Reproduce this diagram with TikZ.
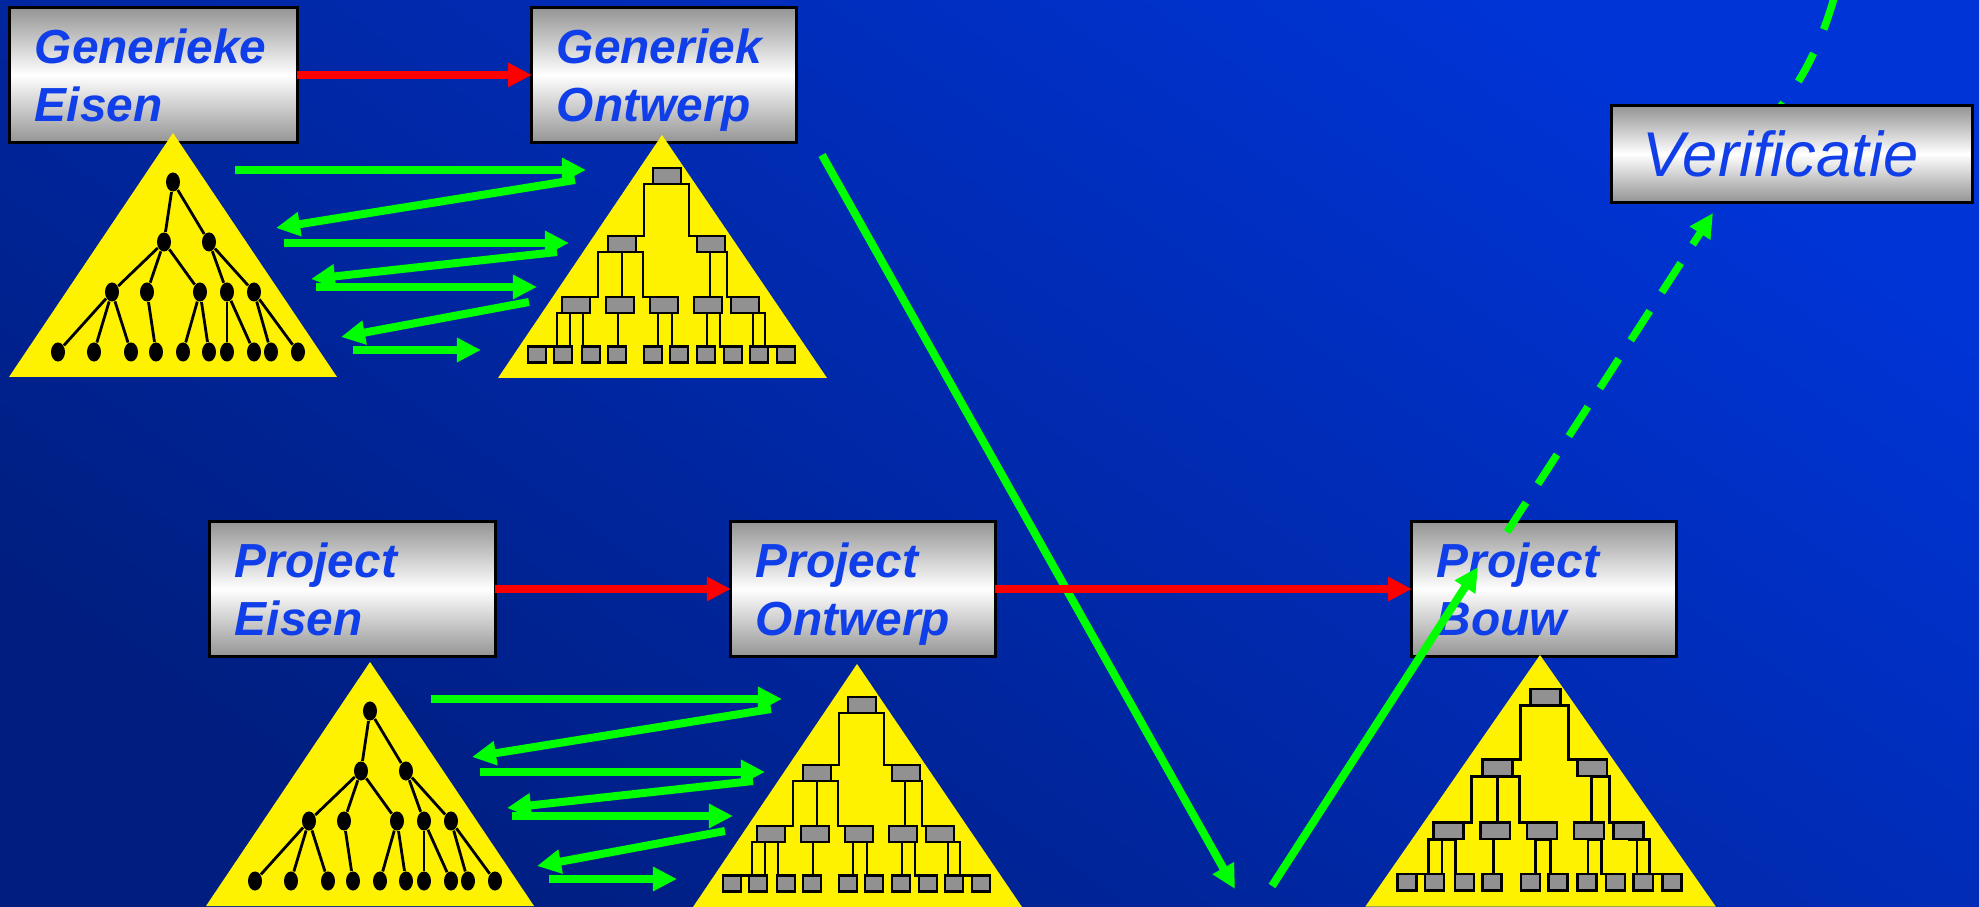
\documentclass[tikz,border=0pt]{standalone}
\usepackage{fontspec}
\setmainfont{Liberation Sans}
\usepackage{tikz}
\usetikzlibrary{shapes.geometric,arrows.meta,positioning}

\definecolor{Ink}{RGB}{16,62,232}
\definecolor{Steel}{RGB}{148,148,148}
\definecolor{Slate}{RGB}{145,145,145}
\definecolor{Lime}{RGB}{0,255,0}
\definecolor{Navy}{RGB}{0,30,128}
\definecolor{Royal}{RGB}{0,52,214}

\newcommand{\dottree}{%
	\fill[yellow] (0,0) -- (-164,244) -- (164,244) -- cycle;
	\node (d1) at (0,49) [Dot]{};
	\node (d2) at (-9,109) [Dot]{};
	\node (d3) at (36,109) [Dot]{};
	\node (d4) at (-61,159) [Dot]{};
	\node (d5) at (-26,159) [Dot]{};
	\node (d6) at (27,159) [Dot]{};
	\node (d7) at (54,159) [Dot]{};
	\node (d8) at (81,159) [Dot]{};
	\foreach \i/\x in {9/-115,10/-79,11/-42,12/-17,13/10,14/36,15/54,16/81,17/98,18/125}
		\node (d\i) at (\x,219) [Dot]{};
	\foreach \a/\b in {1/2,1/3,2/4,2/5,2/6,3/7,3/8,4/9,4/10,4/11,5/12,6/13,6/14,7/15,7/16,8/17,8/18}
		\draw [Twig] (d\a) -- (d\b);
}

\newcommand{\boxtree}{%
	\fill[yellow] (0,0) -- (-164,243) -- (165,243) -- cycle;
	\node (c1) at (5,41) [Block]{};
	\node (c2) at (-40,109) [Block]{};
	\node (c3) at (49,109) [Block]{};
	\foreach \i/\x in {4/-86,5/-42,6/2,7/46,8/83}
		\node (c\i) at (\x,170) [Block]{};
	\foreach \i/\x in {9/-125,10/-99,11/-71,12/-45,13/-9,14/17,15/44,16/71,17/97,18/124}
		\node (c\i) at (\x,219.5) [Cell]{};
	\foreach \a/\b/\off in {1/2/-23,1/3/22,2/4/-24,2/5/0,2/6/21,3/7/-1,3/8/16,4/9/-19,4/10/-6,4/11/7,5/12/-2,6/13/-6,6/14/8,7/15/-1,7/16/12,8/17/8,8/18/20}
		\draw [Twig] (c\a.south) -- ++(\off,0) |- (c\b.north);
}

\begin{document}
\begin{tikzpicture}[x=0.01cm, y=-0.01cm]
	\tikzstyle{Panel} = [draw=black, line width=0.3mm, top color=Steel, bottom color=Steel, middle color=white, text=Ink, inner ysep=0pt, outer sep=0pt]
	\tikzstyle{Stage} = [Panel, minimum height=13.5mm, inner xsep=2.5mm, align=left, text height=10pt, text depth=16.5pt, font=\bfseries\itshape\fontsize{13.6}{16.5}\selectfont]
	\tikzstyle{Dot}   = [ellipse, fill=black, minimum width=1.4mm, minimum height=1.9mm, inner sep=0pt]
	\tikzstyle{Block} = [draw=black, fill=Slate, line width=0.25mm, minimum width=2.8mm, minimum height=1.6mm, inner sep=0pt, outer sep=0pt]
	\tikzstyle{Cell}  = [Block, minimum width=1.8mm]
	\tikzstyle{Twig}  = [black, line width=0.28mm]
	\tikzstyle{Flow}  = [red, line width=0.8mm, -{Triangle[length=2.4mm, width=2.3mm]}]
	\tikzstyle{Zig}   = [Lime, line width=0.8mm, -{Triangle[length=2.4mm, width=2.3mm]}]
	\tikzstyle{Check} = [Lime, line width=0.75mm, dash pattern=on 3.5mm off 2.2mm]

	\useasboundingbox (0,0) rectangle (1979,907);
	\shade[top color=Royal, bottom color=Navy, shading angle=-35] (0,0) rectangle (1979,907);

	\coordinate (g7) at (1781,106);
	\coordinate (g8) at (1834,-2);
	\draw [Check, dash pattern=on 3.2mm off 2.6mm, dash phase=2.8mm] (g7) .. controls (1805,76) and (1822,40) .. (g8);

	\node (ge) at (153.5,75) [Stage, text width=23.7mm] {Generieke\\Eisen};
	\node (go) at (664,75) [Stage, text width=21.4mm] {Generiek\\Ontwerp};
	\node (pe) at (352.5,589) [Stage, text width=23.5mm] {Project\\Eisen};
	\node (po) at (863,589) [Stage, text width=21.4mm] {Project\\Ontwerp};
	\node (pb) at (1544,589) [Stage, text width=21.4mm] {Project\\Bouw};
	\node (vf) at (1792,154) [Panel, minimum height=9.6mm, inner xsep=3.1mm, text width=29.8mm, align=left, font=\itshape\fontsize{18}{22}\selectfont] {Verificatie};

	\begin{scope}[shift={(173,133)}, name prefix=ge-] \dottree \end{scope}
	\begin{scope}[shift={(662,135)}, name prefix=go-] \boxtree \end{scope}
	\begin{scope}[shift={(370,662)}, name prefix=pe-] \dottree \end{scope}
	\begin{scope}[shift={(857,664)}, name prefix=po-] \boxtree \end{scope}
	\begin{scope}[shift={(1540,655)}, xscale=1.065, yscale=1.035, transform shape, name prefix=pb-] \boxtree \end{scope}

	\foreach \dx/\dy in {0/0,196/529}
		\foreach \xa/\ya/\xb/\yb in {235/170/586/170,575/180/276/228,284/243/569/243,557/252/311/279,316/287/537/287,529/302/341/337,353/350/481/350}
			\draw [Zig] (\xa+\dx,\ya+\dy) -- (\xb+\dx,\yb+\dy);

	\coordinate (g1) at (822,155);
	\coordinate (g2) at (1235,889);
	\coordinate (g3) at (1272,886);
	\coordinate (g4) at (1478,567);
	\coordinate (g5) at (1507,532);
	\coordinate (g6) at (1713,213);
	\draw [Zig] (g1) -- (g2);
	\draw [Zig] (g3) -- (g4);
	\draw [Check, -{Triangle[length=2.4mm, width=2.3mm]}] (g5) -- (g6);

	\draw [Flow] (ge) -- (go);
	\draw [Flow] (pe) -- (po);
	\draw [Flow] (po) -- (pb);
\end{tikzpicture}
\end{document}
